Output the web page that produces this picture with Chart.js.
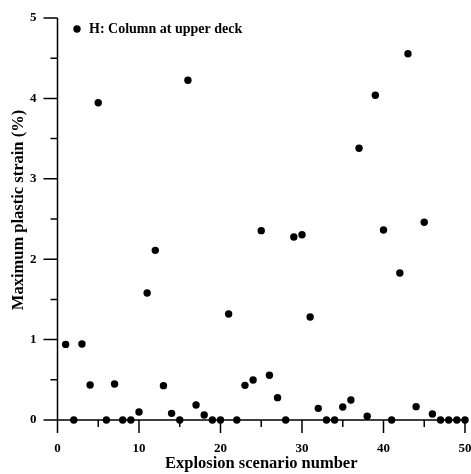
<!DOCTYPE html>
<html>
<head>
<meta charset="utf-8">
<script src="https://cdn.jsdelivr.net/npm/chart.js@4.4.0/dist/chart.umd.min.js"></script>
<style>
  html, body { margin: 0; padding: 0; background: #fff; }
</style>
</head>
<body>
<canvas id="strainChart" width="471" height="474"></canvas>
<script>
// explosion scenario numbers and the peak plastic strain for each (%)
const scenarios = [
  1, 2, 3, 4, 5, 6, 7, 8, 9, 10,
  11, 12, 13, 14, 15, 16, 17, 18, 19, 20,
  21, 22, 23, 24, 25, 26, 27, 28, 29, 30,
  31, 32, 33, 34, 35, 36, 37, 38, 39, 40,
  41, 42, 43, 44, 45, 46, 47, 48, 49, 50
];
const strain = [
  0.94, 0, 0.945, 0.435, 3.945, 0, 0.448, 0, 0, 0.10,
  1.58, 2.11, 0.427, 0.083, 0, 4.225, 0.187, 0.062, 0, 0,
  1.318, 0, 0.431, 0.498, 2.355, 0.556, 0.278, 0, 2.276, 2.305,
  1.281, 0.145, 0, 0, 0.162, 0.249, 3.38, 0.046, 4.04, 2.363,
  0, 1.828, 4.556, 0.166, 2.459, 0.075, 0, 0, 0, 0
];
const xRange = [0, 50];
const yRange = [0, 5];
const seriesLabel = 'H: Column at upper deck';
const xTitle = 'Explosion scenario number';
const yTitle = 'Maximum plastic strain (%)';

const serif = '"Liberation Serif", "Times New Roman", serif';

// axis lines with long/short tick marks, drawn under the points
const axesPlugin = {
  id: 'axesPlugin',
  beforeDatasetsDraw(chart) {
    const {ctx, scales: {x, y}} = chart;
    const x0 = x.getPixelForValue(xRange[0]);
    const y0 = y.getPixelForValue(yRange[0]);
    ctx.save();
    ctx.strokeStyle = '#000';
    ctx.lineWidth = 1.5;
    ctx.beginPath();
    ctx.moveTo(x0, y.getPixelForValue(yRange[1]));
    ctx.lineTo(x0, y0 + 13);
    ctx.moveTo(x0 - 14, y0);
    ctx.lineTo(x.getPixelForValue(xRange[1]), y0);
    y.ticks.forEach(t => {
      const py = y.getPixelForValue(t.value);
      const len = Number.isInteger(t.value) ? 14 : 7;
      ctx.moveTo(x0 - len, py);
      ctx.lineTo(x0, py);
    });
    x.ticks.forEach(t => {
      if (t.value === 0) return;
      const px = x.getPixelForValue(t.value);
      const len = t.value % 10 === 0 ? 13 : 7;
      ctx.moveTo(px, y0);
      ctx.lineTo(px, y0 + len);
    });
    ctx.stroke();
    ctx.restore();
  },
  afterDraw(chart) {
    const {ctx, chartArea} = chart;
    const ds = chart.data.datasets[0];
    ctx.save();
    // legend entry in the top-left corner of the plot
    const lx = chartArea.left + 19.5;
    const ly = chartArea.top + 11;
    ctx.fillStyle = '#000';
    ctx.beginPath();
    ctx.arc(lx, ly, ds.pointRadius, 0, Math.PI * 2);
    ctx.fill();
    ctx.font = 'bold 14px ' + serif;
    ctx.textBaseline = 'middle';
    ctx.textAlign = 'left';
    ctx.fillText(ds.label, lx + 12, ly + 0.5);
    // vertical axis title
    ctx.translate(19, 210);
    ctx.rotate(-Math.PI / 2);
    ctx.font = 'bold 16.5px ' + serif;
    ctx.textAlign = 'center';
    ctx.fillText(yTitle, 0, 0);
    ctx.restore();
  }
};

const tickFont = {family: serif, size: 13, weight: 'bold'};

new Chart(document.getElementById('strainChart').getContext('2d'), {
  type: 'scatter',
  data: {
    datasets: [{
      label: seriesLabel,
      data: scenarios.map((s, i) => ({x: s, y: strain[i]})),
      pointRadius: 3.7,
      pointHoverRadius: 3.7,
      backgroundColor: '#000',
      borderWidth: 0,
      clip: false
    }]
  },
  options: {
    responsive: false,
    animation: false,
    layout: {padding: {left: 0, right: 6, top: 18, bottom: 0}},
    plugins: {
      legend: {display: false},
      tooltip: {enabled: false}
    },
    scales: {
      x: {
        type: 'linear',
        min: xRange[0],
        max: xRange[1],
        grid: {display: false, drawTicks: false},
        border: {display: false},
        ticks: {
          stepSize: 5,
          autoSkip: false,
          maxRotation: 0,
          padding: 21,
          color: '#000',
          font: tickFont,
          callback: v => (v % 10 === 0 ? v : '')
        },
        title: {
          display: true,
          text: xTitle,
          color: '#000',
          font: {family: serif, size: 16.5, weight: 'bold'},
          padding: {top: 0, bottom: 0}
        },
        afterFit(scale) {
          scale.height = 54;
          scale.paddingLeft = 0;
          scale.paddingRight = 0;
        }
      },
      y: {
        type: 'linear',
        min: yRange[0],
        max: yRange[1],
        grid: {display: false, drawTicks: false},
        border: {display: false},
        ticks: {
          stepSize: 0.5,
          autoSkip: false,
          padding: 21,
          color: '#000',
          font: tickFont,
          callback: v => (Number.isInteger(v) ? v : '')
        },
        afterFit(scale) {
          scale.width = 57.5;
          scale.paddingTop = 0;
          scale.paddingBottom = 0;
        }
      }
    }
  },
  plugins: [axesPlugin]
});
</script>
</body>
</html>
